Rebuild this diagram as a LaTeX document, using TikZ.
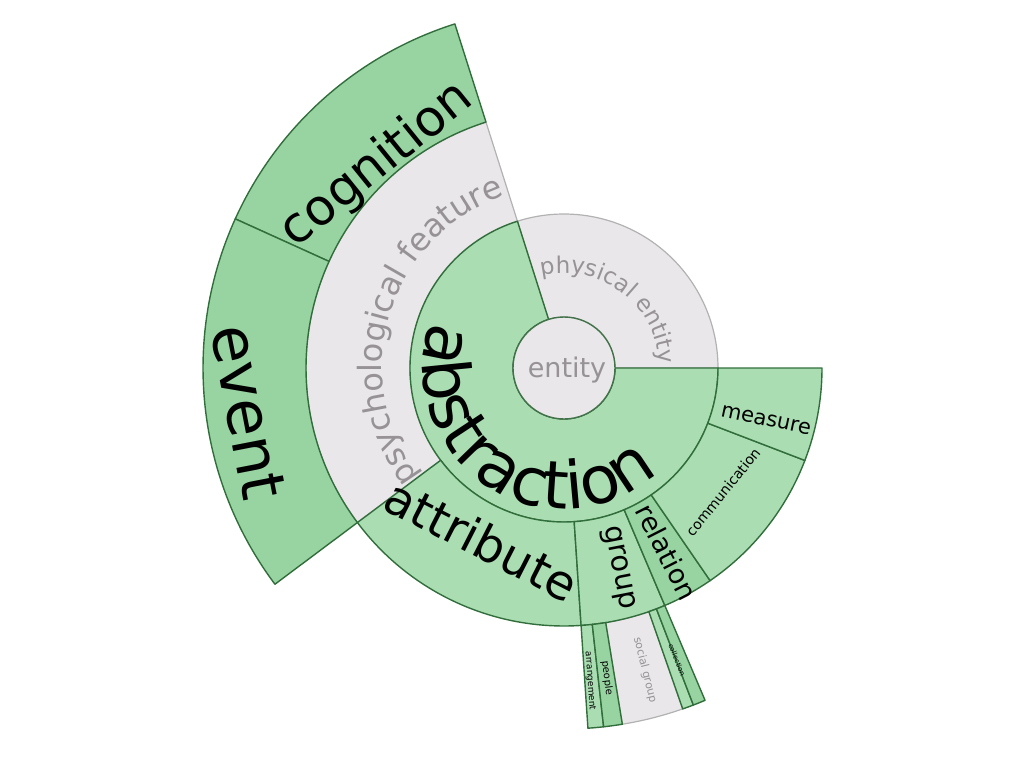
\documentclass[tikz,border=0pt]{standalone}
\usepackage{fontspec}
\setmainfont{DejaVu Sans}
\usetikzlibrary{decorations.text}
\definecolor{grn}{RGB}{152,211,162}
\definecolor{grnL}{RGB}{170,221,178}
\definecolor{gry}{RGB}{233,231,233}
\definecolor{bd}{RGB}{50,110,60}
\definecolor{gbd}{RGB}{178,178,178}
\definecolor{gtx}{RGB}{150,146,150}
\newcommand{\wedgeseg}[5]{%
  \draw[#1] (#4:#2pt) arc[start angle=#4, end angle=#5, radius=#2pt]
    -- (#5:#3pt) arc[start angle=#5, end angle=#4, radius=#3pt] -- cycle;}
\tikzset{
  gw/.style={fill=gry, draw=gbd, line width=1.2pt, line join=round},
  gnw/.style={fill=grn, draw=bd, line width=1.4pt, line join=round},
  gnl/.style={fill=grnL, draw=bd, line width=1.4pt, line join=round},
  lbl/.style={inner sep=0pt, text=black},
  glbl/.style={inner sep=0pt, text=gtx},
}
\begin{document}
\begin{tikzpicture}[x=1pt,y=1pt]
\useasboundingbox (-564,-400) rectangle (460,368);
% ring 1
\wedgeseg{gw}{51}{154}{0}{107.6}
% ring 2 gray
\wedgeseg{gw}{154}{258}{107.6}{216.8}
% ring 3 gray (social group)
\wedgeseg{gw}{258}{361}{279.3}{289.2}
% green wedges
\wedgeseg{gnl}{51}{154}{107.6}{360}
\wedgeseg{gnl}{154}{258}{216.8}{273.8}
\wedgeseg{gnl}{154}{258}{273.8}{293}
\wedgeseg{gnw}{154}{258}{293}{304.5}
\wedgeseg{gnl}{154}{258}{304.5}{339}
\wedgeseg{gnl}{154}{258}{339}{360}
\wedgeseg{gnw}{258}{361}{107.6}{155.6}
\wedgeseg{gnw}{258}{361}{155.6}{216.8}
\wedgeseg{gnl}{258}{361}{273.8}{276.3}
\wedgeseg{gnw}{258}{361}{276.3}{279.3}
\wedgeseg{gnl}{258}{361}{289.2}{291}
\wedgeseg{gnw}{258}{361}{291}{293}
% centre
\draw[fill=gry, draw=bd!80!gray, line width=1.4pt] (0,0) circle[radius=51pt];
% curved labels
\path[decorate, decoration={text along path, text align=center, text color=gtx,
  text={|\fontsize{23}{23}\selectfont|physical entity}}]
  (106:95pt) arc[start angle=106, end angle=0, radius=95pt];
\path[decorate, decoration={text along path, text align=center, text color=black,
  text={|\fontsize{66}{66}\selectfont|abstraction}}]
  (113:141pt) arc[start angle=113, end angle=360, radius=141pt];
\path[decorate, decoration={text along path, text align=center, text color=gtx,
  text={|\fontsize{32}{32}\selectfont|psychological feature}}]
  (222:182pt) arc[start angle=222, end angle=104, radius=182pt];
% straight labels
\node[glbl, font=\fontsize{27}{27}\selectfont] (ent) at (3,-2) {entity};
\node[lbl, font=\fontsize{50}{50}\selectfont, rotate=39] (cog) at (-187,203) {cognition};
\node[lbl, font=\fontsize{62}{62}\selectfont, rotate=-79] (evt) at (-316,-44) {event};
\node[lbl, font=\fontsize{48}{48}\selectfont, rotate=-27] (att) at (-82,-172) {attribute};
\node[lbl, font=\fontsize{29}{29}\selectfont, rotate=-79] (grp) at (54,-200) {group};
\node[lbl, font=\fontsize{27}{27}\selectfont, rotate=-63] (rel) at (103,-184) {relation};
\node[lbl, font=\fontsize{14}{14}\selectfont, rotate=51] (com) at (159,-124) {communication};
\node[lbl, font=\fontsize{21}{21}\selectfont, rotate=-12] (mea) at (202,-52) {measure};
\node[lbl, font=\fontsize{9}{9}\selectfont, rotate=-86] (arr) at (26,-313) {arrangement};
\node[lbl, font=\fontsize{10}{10}\selectfont, rotate=-83] (ppl) at (43,-310) {people};
\node[glbl, font=\fontsize{11}{11}\selectfont, rotate=-76] (soc) at (81,-302) {social group};
\node[lbl, font=\fontsize{7}{7}\selectfont, rotate=-68] (col) at (113,-292) {collection};
\end{tikzpicture}
\end{document}
